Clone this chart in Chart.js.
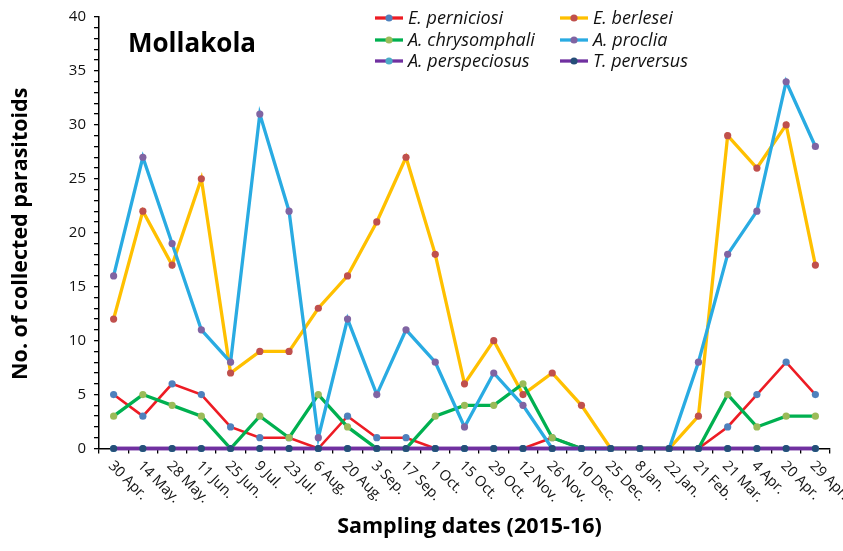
<!DOCTYPE html>
<html>
<head>
<meta charset="utf-8">
<script src="https://cdn.jsdelivr.net/npm/chart.js@4/dist/chart.umd.min.js"></script>
<style>
  html, body { margin: 0; padding: 0; background: #ffffff; }
  #wrap { width: 843px; height: 551px; position: relative; }
</style>
</head>
<body>
<div id="wrap"><canvas id="chart" width="843" height="551"></canvas></div>
<script>
// Sampling dates at Mollakola (2015-16)
const samplingDates = ['30 Apr.', '14 May.', '28 May.', '11 Jun.', '25 Jun.', '9 Jul.', '23 Jul.', '6 Aug.',
  '20 Aug.', '3 Sep.', '17 Sep.', '1 Oct.', '15 Oct.', '29 Oct.', '12 Nov.', '26 Nov.', '10 Dec.',
  '25 Dec.', '8 Jan.', '22 Jan.', '21 Feb.', '21 Mar.', '4 Apr.', '20 Apr.', '29 Apr.'];

// Number of collected parasitoids per species
const ePerniciosi    = [5, 3, 6, 5, 2, 1, 1, 0, 3, 1, 1, 0, 0, 0, 0, 1, 0, 0, 0, 0, 0, 2, 5, 8, 5];
const eBerlesei      = [12, 22, 17, 25, 7, 9, 9, 13, 16, 21, 27, 18, 6, 10, 5, 7, 4, 0, 0, 0, 3, 29, 26, 30, 17];
const aChrysomphali  = [3, 5, 4, 3, 0, 3, 1, 5, 2, 0, 0, 3, 4, 4, 6, 1, 0, 0, 0, 0, 0, 5, 2, 3, 3];
const aProclia       = [16, 27, 19, 11, 8, 31, 22, 1, 12, 5, 11, 8, 2, 7, 4, 0, 0, 0, 0, 0, 8, 18, 22, 34, 28];
const aPerspeciosus  = [0, 0, 0, 0, 0, 0, 0, 0, 0, 0, 0, 0, 0, 0, 0, 0, 0, 0, 0, 0, 0, 0, 0, 0, 0];
const tPerversus     = [0, 0, 0, 0, 0, 0, 0, 0, 0, 0, 0, 0, 0, 0, 0, 0, 0, 0, 0, 0, 0, 0, 0, 0, 0];

const yTicks = { min: 0, max: 40, major: 5 };

const FONT = '"Open Sans", "Noto Sans", sans-serif';

function series(label, data, line, marker, width, order) {
  return {
    label, data,
    borderColor: line,
    backgroundColor: marker,
    borderWidth: width,
    pointRadius: 3.6,
    pointHoverRadius: 3.6,
    pointBackgroundColor: marker,
    pointBorderWidth: 0,
    tension: 0,
    clip: false,
    order
  };
}

const datasets = [
  series('E. perniciosi', ePerniciosi, '#ED1C24', '#4F81BD', 2.6, 6),
  series('E. berlesei', eBerlesei, '#FFC000', '#C0504D', 3.3, 5),
  series('A. chrysomphali', aChrysomphali, '#00B050', '#9BBB59', 3.3, 4),
  series('A. proclia', aProclia, '#29ABE2', '#8064A2', 3.3, 3),
  series('A. perspeciosus', aPerspeciosus, '#7030A0', '#4BACC6', 3.3, 2),
  series('T. perversus', tPerversus, '#7030A0', '#264E78', 3.3, 1)
];

// Rotated date labels, axis titles, panel title and a two-column legend
const decorations = {
  id: 'decorations',
  afterDraw(chart) {
    const ctx = chart.ctx;
    const xs = chart.scales.x;
    const ys = chart.scales.y;
    const area = chart.chartArea;

    ctx.save();
    ctx.fillStyle = '#111';
    ctx.font = '14.5px ' + FONT;
    ctx.textAlign = 'left';
    ctx.textBaseline = 'middle';
    samplingDates.forEach((lab, i) => {
      const x = xs.getPixelForValue(i);
      ctx.save();
      ctx.translate(x - 3, ys.bottom + 15);
      ctx.rotate(Math.PI / 4);
      ctx.fillText(lab, 0, 0);
      ctx.restore();
    });

    // axis titles
    ctx.fillStyle = '#000';
    ctx.font = 'bold 21.5px ' + FONT;
    ctx.textAlign = 'center';
    ctx.textBaseline = 'middle';
    ctx.fillText('Sampling dates (2015-16)', (area.left + area.right) / 2 + 5, 527);

    ctx.save();
    ctx.translate(21, (area.top + area.bottom) / 2 + 1);
    ctx.rotate(-Math.PI / 2);
    ctx.fillText('No. of collected parasitoids', 0, 0);
    ctx.restore();

    // panel title
    ctx.font = 'bold 26px ' + FONT;
    ctx.textAlign = 'left';
    ctx.textBaseline = 'alphabetic';
    ctx.fillText('Mollakola', 128, 52);

    // legend
    const cols = [375, 560];
    const rows = [18, 40, 61];
    ctx.font = 'italic 18px ' + FONT;
    ctx.textBaseline = 'middle';
    chart.data.datasets.forEach((ds, i) => {
      const lx = cols[i % 2];
      const ly = rows[Math.floor(i / 2)];
      ctx.strokeStyle = ds.borderColor;
      ctx.lineWidth = 3.3;
      ctx.beginPath();
      ctx.moveTo(lx, ly);
      ctx.lineTo(lx + 28, ly);
      ctx.stroke();
      ctx.fillStyle = ds.pointBackgroundColor;
      ctx.beginPath();
      ctx.arc(lx + 14, ly, 3.6, 0, Math.PI * 2);
      ctx.fill();
      ctx.fillStyle = '#111';
      ctx.fillText(ds.label, lx + 33, ly + 1);
    });
    ctx.restore();
  }
};

new Chart(document.getElementById('chart'), {
  type: 'line',
  data: { labels: samplingDates, datasets },
  plugins: [decorations],
  options: {
    responsive: false,
    devicePixelRatio: 1,
    animation: false,
    events: [],
    layout: { padding: { left: 65, right: 13, top: 16.5, bottom: 97.5 } },
    plugins: {
      legend: { display: false },
      title: { display: false },
      tooltip: { enabled: false }
    },
    scales: {
      x: {
        type: 'category',
        offset: true,
        grid: { offset: true, drawOnChartArea: false, drawTicks: true, tickLength: 5, color: '#000', lineWidth: 1.3 },
        border: { display: true, color: '#000', width: 1.5 },
        ticks: { display: false },
        afterFit(scale) { scale.height = 5; }
      },
      y: {
        min: yTicks.min,
        max: yTicks.max,
        grid: { drawOnChartArea: false, drawTicks: true, tickLength: 5, color: '#000', lineWidth: 1.3 },
        border: { display: true, color: '#000', width: 1.5 },
        ticks: {
          stepSize: 1,
          autoSkip: false,
          padding: 8,
          color: '#111',
          font: { family: FONT, size: 15 },
          callback: v => (v % yTicks.major === 0 ? String(v) : '')
        },
        afterFit(scale) { scale.width = 34; }
      }
    }
  }
});
</script>
</body>
</html>
